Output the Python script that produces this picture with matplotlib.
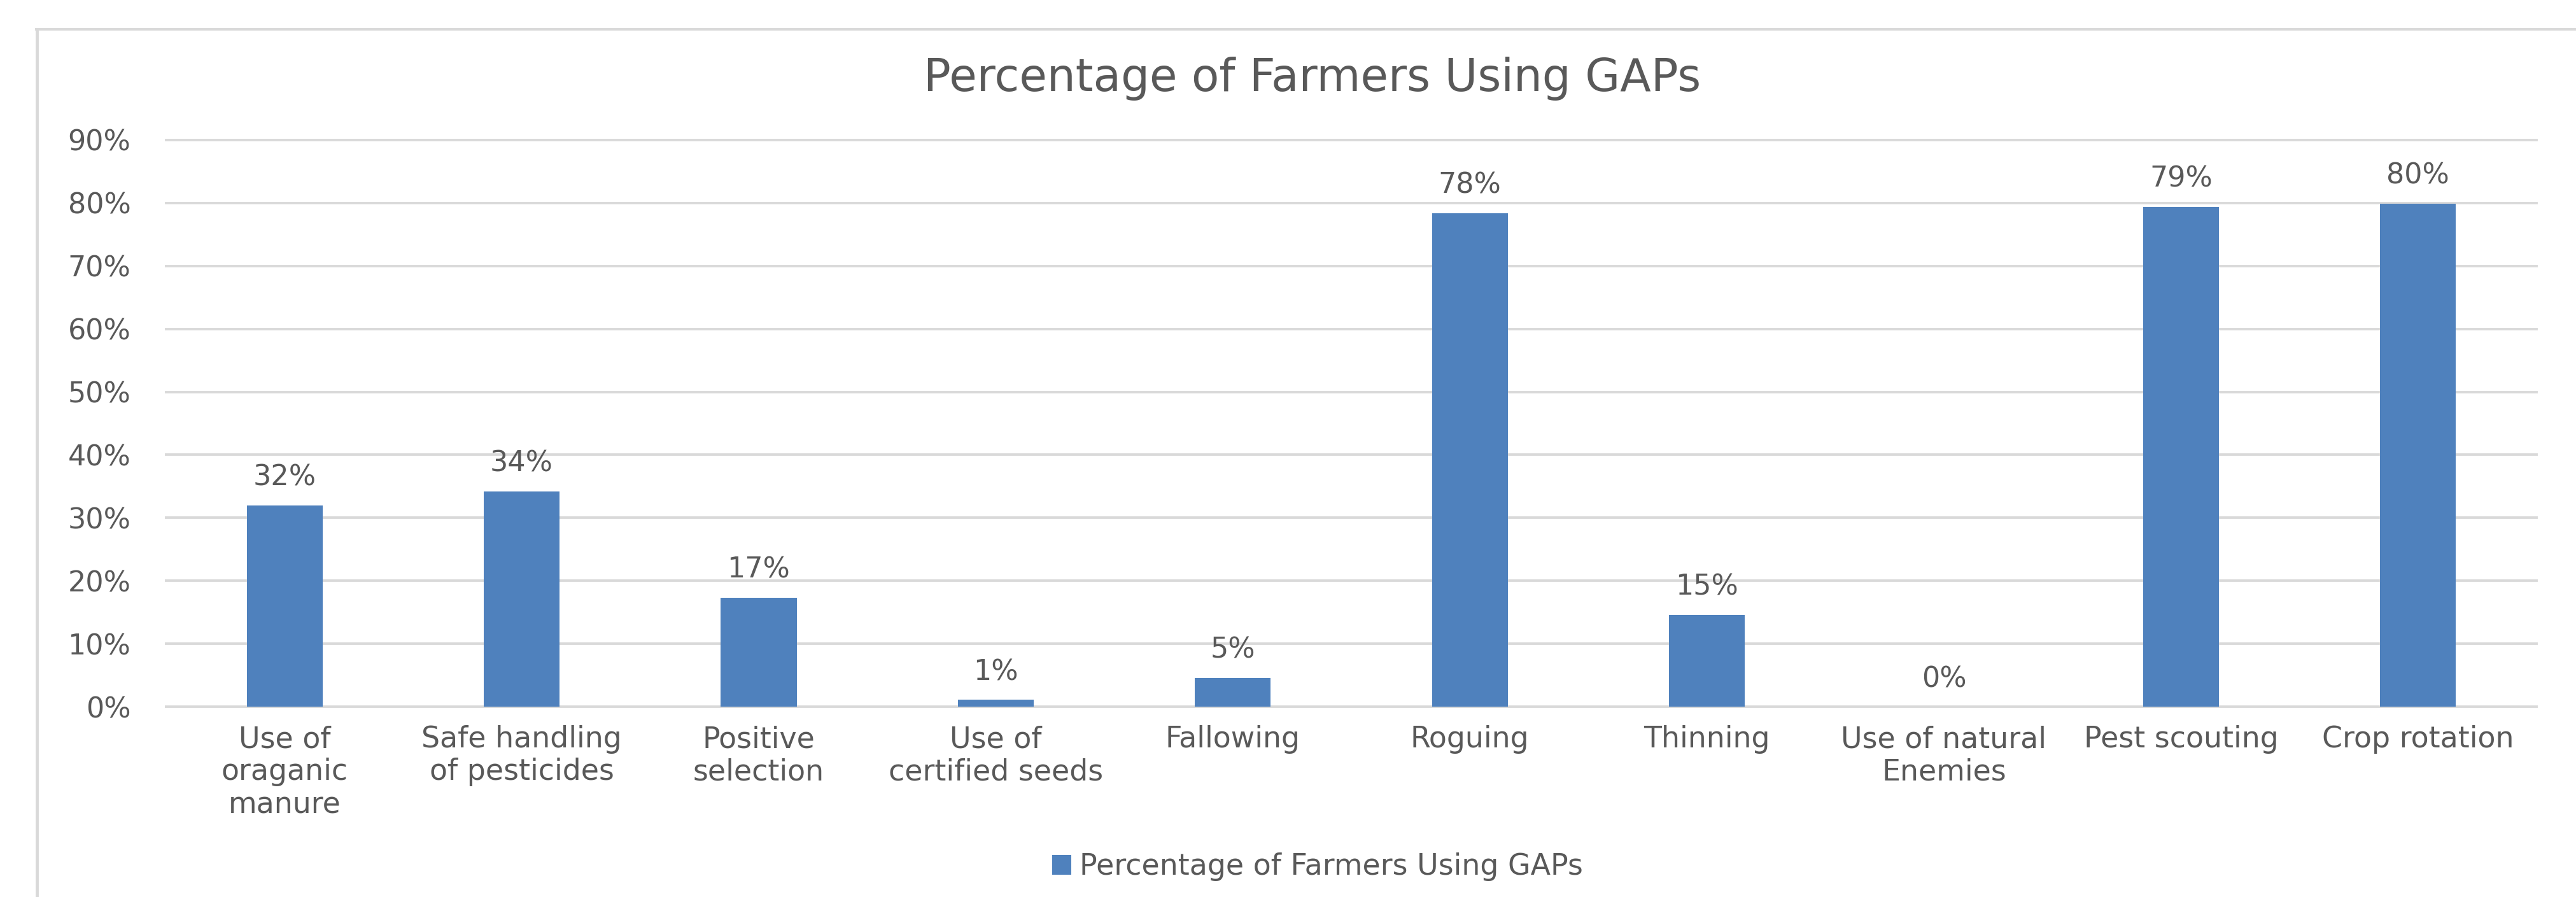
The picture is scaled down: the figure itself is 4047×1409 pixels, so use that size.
import matplotlib
matplotlib.use("Agg")
import matplotlib.pyplot as plt
from matplotlib.lines import Line2D
from matplotlib.ticker import FuncFormatter

categories = ["Use of\noraganic\nmanure", "Safe handling\nof pesticides", "Positive\nselection",
              "Use of\ncertified seeds", "Fallowing", "Roguing", "Thinning",
              "Use of natural\nEnemies", "Pest scouting", "Crop rotation"]
values = [0.32, 0.342, 0.173, 0.011, 0.046, 0.784, 0.146, 0.0, 0.794, 0.799]
series_name = "Percentage of Farmers Using GAPs"
title = "Percentage of Farmers Using GAPs"
yticks = [0, 0.1, 0.2, 0.3, 0.4, 0.5, 0.6, 0.7, 0.8, 0.9]

W, H = 4048, 1409
DPI = 100
TXT = "#595959"
GRID = "#D9D9D9"
BAR = "#4F81BD"

plt.rcParams['font.family'] = ['DejaVu Sans']

fig = plt.figure(figsize=(W / DPI, H / DPI), dpi=DPI)
fig.patch.set_facecolor("white")

ax = fig.add_axes([261 / W, 1 - 1110 / H, (3985 - 261) / W, (1110 - 220) / H])
x = list(range(len(categories)))
bars = ax.bar(x, values, width=0.32, color=BAR, zorder=3, label=series_name)

ax.set_xlim(-0.5, len(categories) - 0.5)
ax.set_ylim(0, 0.9)
ax.set_yticks(yticks)
ax.yaxis.set_major_formatter(FuncFormatter(lambda v, p: f"{v*100:.0f}%"))
ax.grid(axis="y", color=GRID, linewidth=2.8, zorder=0)
ax.set_axisbelow(True)
for gl in ax.get_ygridlines():
    gl.set_clip_on(False)
for s in ax.spines.values():
    s.set_visible(False)

ax.set_xticks(x)
ax.set_xticklabels(categories, fontsize=33, color=TXT, linespacing=1.17, va="top")
ax.tick_params(axis="x", length=0, pad=21)
ax.tick_params(axis="y", length=0, pad=40, labelsize=32, labelcolor=TXT)

for xi, v in zip(x, values):
    ax.annotate(f"{round(v*100):.0f}%", xy=(xi, v), xytext=(0, 22.3), textcoords="offset points",
                ha="center", va="baseline", fontsize=32, color=TXT)

fig.text(2062 / W, 1 - 143 / H, title, ha="center", va="baseline", fontsize=51, color=TXT)

leg = fig.legend(handles=[bars], labels=[series_name], loc="center",
                 bbox_to_anchor=(2070 / W, 1 - 1362 / H), frameon=False,
                 fontsize=33, handlelength=0.65, handleheight=0.65, handletextpad=0.3,
                 labelcolor=TXT)

# outer chart-area border (right and bottom edges are cut off in the reference)
fig.add_artist(Line2D([57 / W, 1.0], [1 - 46 / H, 1 - 46 / H], transform=fig.transFigure,
                      color=GRID, linewidth=3.0))
fig.add_artist(Line2D([58 / W, 58 / W], [1 - 46 / H, 0.0], transform=fig.transFigure,
                      color=GRID, linewidth=3.5))

fig.savefig("out.png", dpi=DPI, facecolor="white")
